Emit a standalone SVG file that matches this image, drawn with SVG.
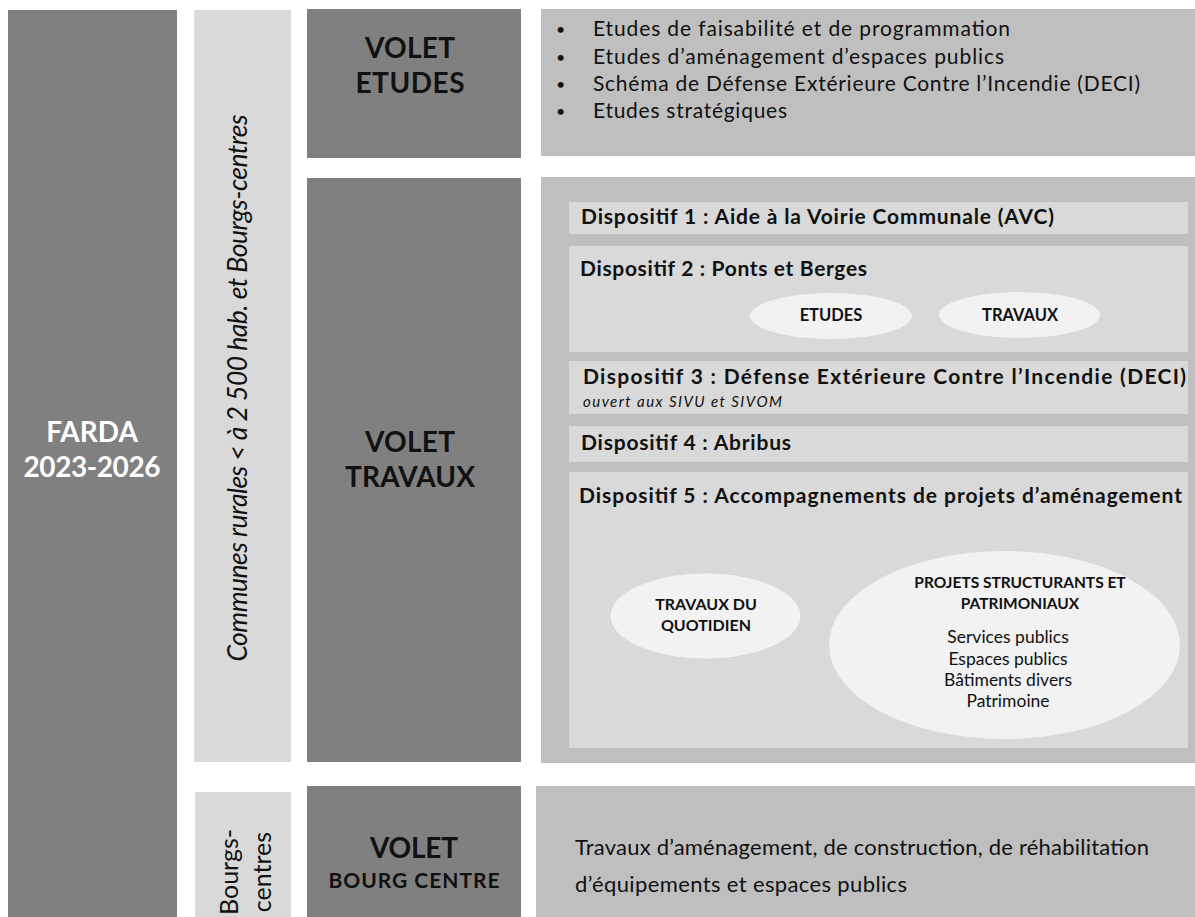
<svg xmlns="http://www.w3.org/2000/svg" width="1195" height="917" viewBox="0 0 1195 917">
<style>
  text { font-family: Lato, "Liberation Sans", "DejaVu Sans", sans-serif; fill: #111111; }
  .dark { fill: #808080; }
  .light { fill: #d9d9d9; }
  .mid { fill: #bfbfbf; }
  .oval { fill: #f2f2f2; }
  .big { font-size: 28px; font-weight: bold; text-anchor: middle; }
  .farda { font-size: 28px; font-weight: bold; text-anchor: middle; fill: #ffffff; }
  .rot { font-size: 26.5px; font-style: italic; text-anchor: middle; }
  .rot2 { font-size: 25px; text-anchor: middle; }
  .bul { font-size: 21px; }
  .dot { font-size: 16px; }
  .disp { font-size: 21px; font-weight: bold; }
  .ital { font-size: 15px; font-style: italic; }
  .ov { font-size: 16px; font-weight: bold; text-anchor: middle; }
  .ovt { font-size: 17.5px; text-anchor: middle; }
  .body { font-size: 22px; }
</style>
<rect width="1195" height="917" fill="#ffffff"/>

<g id="farda">
  <rect class="dark" x="8" y="10" width="169" height="907"/>
  <text class="farda" x="92" y="442">FARDA</text>
  <text class="farda" x="92" y="477" textLength="137" lengthAdjust="spacing">2023-2026</text>
</g>

<g id="communes">
  <rect class="light" x="194" y="10" width="97" height="752"/>
  <text class="rot" transform="translate(247,388) rotate(-90)" x="0" y="0" textLength="547" lengthAdjust="spacing">Communes rurales &lt; à 2 500 hab. et Bourgs-centres</text>
</g>

<g id="bourgs">
  <rect class="light" x="195" y="792" width="96" height="125"/>
  <text class="rot2" transform="translate(238,872) rotate(-90)" x="0" y="0">Bourgs-</text>
  <text class="rot2" transform="translate(271,872) rotate(-90)" x="0" y="0">centres</text>
</g>

<g id="volet-etudes">
  <rect class="dark" x="307" y="9" width="214" height="149"/>
  <text class="big" x="410" y="58" textLength="90" lengthAdjust="spacing">VOLET</text>
  <text class="big" x="410" y="93" textLength="109" lengthAdjust="spacing">ETUDES</text>
</g>

<g id="volet-travaux">
  <rect class="dark" x="307" y="178" width="214" height="584"/>
  <text class="big" x="410" y="452" textLength="90" lengthAdjust="spacing">VOLET</text>
  <text class="big" x="410" y="487" textLength="130" lengthAdjust="spacing">TRAVAUX</text>
</g>

<g id="volet-bourg">
  <rect class="dark" x="307" y="786" width="214" height="131"/>
  <text class="big" x="414" y="858" textLength="88" lengthAdjust="spacing">VOLET</text>
  <text class="big" x="414" y="888" style="font-size:21px" textLength="171" lengthAdjust="spacing">BOURG CENTRE</text>
</g>

<g id="etudes-list">
  <rect class="mid" x="541" y="9" width="654" height="147"/>
  <text class="dot" x="556" y="35">•</text>
  <text class="bul" x="593" y="36" textLength="417" lengthAdjust="spacing">Etudes de faisabilité et de programmation</text>
  <text class="dot" x="556" y="62.5">•</text>
  <text class="bul" x="593" y="63.5" textLength="411" lengthAdjust="spacing">Etudes d’aménagement d’espaces publics</text>
  <text class="dot" x="556" y="90">•</text>
  <text class="bul" x="593" y="91" textLength="547" lengthAdjust="spacing">Schéma de Défense Extérieure Contre l’Incendie (DECI)</text>
  <text class="dot" x="556" y="117">•</text>
  <text class="bul" x="593" y="118" textLength="194" lengthAdjust="spacing">Etudes stratégiques</text>
</g>

<g id="travaux-panel">
  <rect class="mid" x="541" y="177" width="654" height="586"/>
</g>

<g id="dispositif-1">
  <rect class="light" x="569" y="202" width="619" height="32"/>
  <text class="disp" x="581" y="224" textLength="473" lengthAdjust="spacing">Dispositif 1 : Aide à la Voirie Communale (AVC)</text>
</g>

<g id="dispositif-2">
  <rect class="light" x="569" y="246" width="619" height="106"/>
  <text class="disp" x="580" y="276" textLength="287" lengthAdjust="spacing">Dispositif 2 : Ponts et Berges</text>
  <g id="d2-etudes">
    <ellipse class="oval" cx="831" cy="316" rx="81" ry="23"/>
    <text class="ov" x="831" y="321" style="font-size:16.5px">ETUDES</text>
  </g>
  <g id="d2-travaux">
    <ellipse class="oval" cx="1019.5" cy="315" rx="80.5" ry="23"/>
    <text class="ov" x="1020" y="321" style="font-size:16.5px">TRAVAUX</text>
  </g>
</g>

<g id="dispositif-3">
  <rect class="light" x="569" y="361" width="619" height="53"/>
  <text class="disp" x="583" y="384" textLength="603" lengthAdjust="spacing">Dispositif 3 : Défense Extérieure Contre l’Incendie (DECI)</text>
  <text class="ital" x="583" y="407" textLength="199" lengthAdjust="spacing">ouvert aux SIVU et SIVOM</text>
</g>

<g id="dispositif-4">
  <rect class="light" x="569" y="426" width="619" height="36"/>
  <text class="disp" x="581" y="450" textLength="210" lengthAdjust="spacing">Dispositif 4 : Abribus</text>
</g>

<g id="dispositif-5">
  <rect class="light" x="569" y="472" width="619" height="276"/>
  <text class="disp" x="579" y="503" textLength="603" lengthAdjust="spacing">Dispositif 5 : Accompagnements de projets d’aménagement</text>
  <g id="d5-quotidien">
    <ellipse class="oval" cx="705.5" cy="616" rx="95" ry="42.5"/>
    <text class="ov" x="706" y="610">TRAVAUX DU</text>
    <text class="ov" x="706" y="631">QUOTIDIEN</text>
  </g>
  <g id="d5-projets">
    <ellipse class="oval" cx="1004.5" cy="645" rx="175.5" ry="94"/>
    <text class="ov" x="1020" y="588" style="font-size:15.5px">PROJETS STRUCTURANTS ET</text>
    <text class="ov" x="1020" y="609" style="font-size:15.5px">PATRIMONIAUX</text>
    <text class="ovt" x="1008" y="643">Services publics</text>
    <text class="ovt" x="1008" y="665">Espaces publics</text>
    <text class="ovt" x="1008" y="686">Bâtiments divers</text>
    <text class="ovt" x="1008" y="707">Patrimoine</text>
  </g>
</g>

<g id="bourg-centre-text">
  <rect class="mid" x="536" y="786" width="659" height="131"/>
  <text class="body" x="575" y="855" textLength="574" lengthAdjust="spacing">Travaux d’aménagement, de construction, de réhabilitation</text>
  <text class="body" x="575" y="892" textLength="332" lengthAdjust="spacing">d’équipements et espaces publics</text>
</g>

<g id="connectors"></g>
</svg>
